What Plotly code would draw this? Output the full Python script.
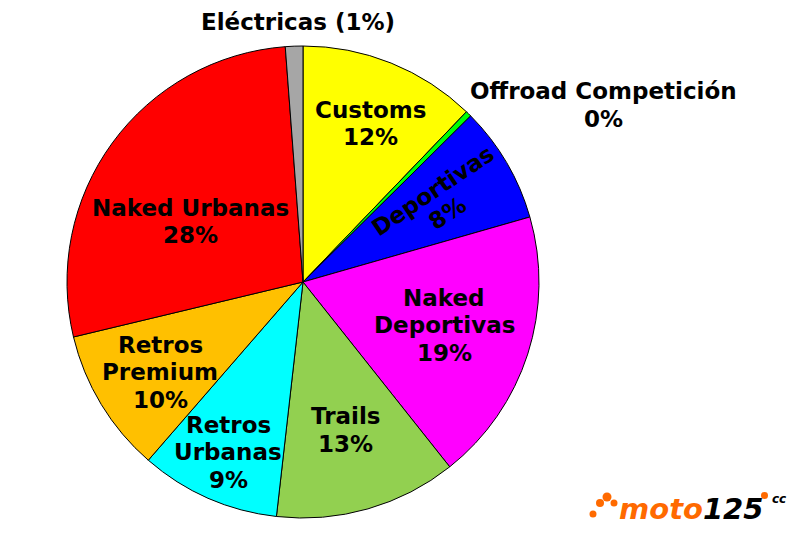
import math
import plotly.graph_objects as go

# ---- data ----
segments = ["Customs", "Offroad Competición", "Deportivas", "Naked Deportivas",
            "Trails", "Retros Urbanas", "Retros Premium", "Naked Urbanas", "Eléctricas"]
shares = [12.2, 0.4, 8.0, 18.8, 12.5, 9.6, 9.9, 27.6, 1.2]
pct_labels = ["12%", "0%", "8%", "19%", "13%", "9%", "10%", "28%", "1%"]
label_lines = [["Customs"], ["Offroad Competición"], ["Deportivas"], ["Naked", "Deportivas"],
               ["Trails"], ["Retros", "Urbanas"], ["Retros", "Premium"], ["Naked Urbanas"], ["Eléctricas"]]

# ---- style ----
colors = ["#FFFF00", "#00FF00", "#0000FF", "#FF00FF", "#92D050",
          "#00FFFF", "#FFC000", "#FF0000", "#A6A6A6"]
W, H = 800, 533
OFF = 8  # page body margin
cx, cy, R = 303 - OFF, 282 - OFF, 236
LINE = 27.5
FS = 23
# label block centres in page pixels, plus rotation
label_pos = [(370, 123.5, 0), (603, 105, 0), (440, 202, -34), (444, 325, 0),
             (345, 430, 0), (228, 452, 0), (160, 372, 0), (190, 221.5, 0), (298, 22, 0)]


def px(x, y):
    return (x - OFF) / W, 1 - (y - OFF) / H


fig = go.Figure(go.Pie(
    labels=segments, values=shares, sort=False, direction="clockwise", rotation=0,
    marker=dict(colors=colors, line=dict(color="black", width=1)),
    textinfo="none", hoverinfo="label+percent", showlegend=False,
    domain=dict(x=[(cx - R) / W, (cx + R) / W], y=[(H - cy - R) / H, (H - cy + R) / H]),
))

font = dict(family="DejaVu Sans", size=FS, color="black", weight="bold")
for i, (x, y, ang) in enumerate(label_pos):
    if segments[i] == "Eléctricas":
        lines = [f"{label_lines[i][0]} ({pct_labels[i]})"]
    else:
        lines = label_lines[i] + [pct_labels[i]]
    n = len(lines)
    a = math.radians(-ang)
    for k, t in enumerate(lines):
        off = (k - (n - 1) / 2) * LINE
        lx = x + off * math.sin(a)
        ly = y + off * math.cos(a)
        ax, ay = px(lx, ly)
        fig.add_annotation(x=ax, y=ay, xref="paper", yref="paper", text=t,
                           showarrow=False, font=font, textangle=ang,
                           xanchor="center", yanchor="middle")

# logo
for (dx, dy, r) in [(593, 514, 3.5), (600, 503, 4), (607, 497, 4.5), (614, 503, 3.5)]:
    x0, y1 = px(dx - r, dy - r)
    x1, y0 = px(dx + r, dy + r)
    fig.add_shape(type="circle", xref="paper", yref="paper", x0=x0, x1=x1, y0=y0, y1=y1,
                  fillcolor="#FF6A00", line=dict(width=0))
lx, ly = px(691, 509)
fig.add_annotation(x=lx, y=ly, xref="paper", yref="paper", showarrow=False,
                   text="<i><b><span style='color:#FF6A00'>moto</span>125</b></i>",
                   font=dict(family="DejaVu Sans", size=29, color="black"),
                   xanchor="center", yanchor="middle")
x0, y1 = px(761, 492)
x1, y0 = px(768, 499)
fig.add_shape(type="circle", xref="paper", yref="paper", x0=x0, x1=x1, y0=y0, y1=y1,
              fillcolor="#FF6A00", line=dict(width=0))
cxl, cyl = px(779, 499)
fig.add_annotation(x=cxl, y=cyl, xref="paper", yref="paper", showarrow=False,
                   text="<i><b>cc</b></i>", font=dict(family="DejaVu Sans", size=12, color="black"),
                   xanchor="center", yanchor="middle")

fig.update_layout(width=W, height=H, margin=dict(l=0, r=0, t=0, b=0),
                  paper_bgcolor="white", plot_bgcolor="white")
fig.write_html("out.html")
